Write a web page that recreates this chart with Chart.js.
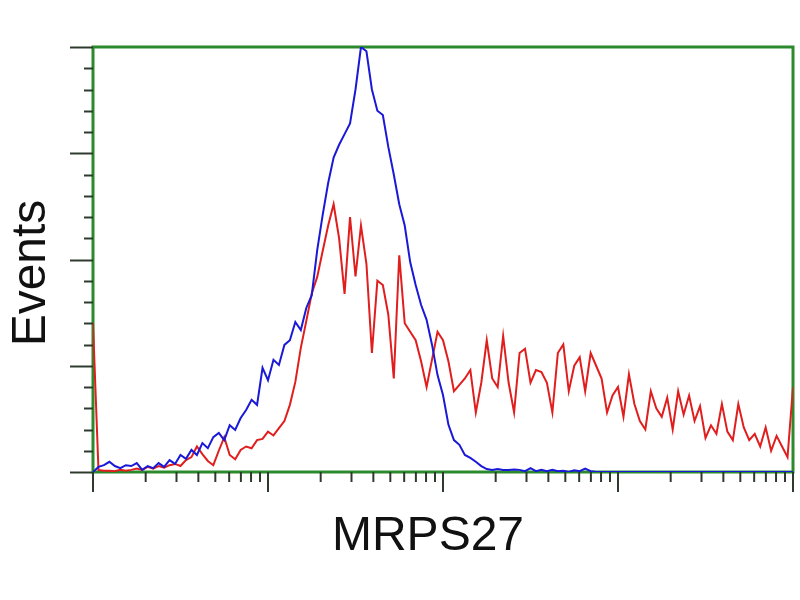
<!DOCTYPE html>
<html>
<head>
<meta charset="utf-8">
<script src="https://cdn.jsdelivr.net/npm/chart.js@4.4.1/dist/chart.umd.min.js"></script>
<style>
  body { margin: 0; background: #fff; }
  #wrap { width: 800px; height: 600px; }
</style>
</head>
<body>
<div id="wrap"><canvas id="histo" width="800" height="600"></canvas></div>
<script>
// histogram bins: 128 channels over 4 log decades (32 channels per decade)
const decades = [0, 1, 2, 3, 4];
const channelsPerDecade = 32;

// blue (control) histogram, events per channel, scaled to 100 at the peak
const blueCounts = [
    0, 1.2, 1.6, 2.4, 1.4, 0.9, 1.6, 1.4, 2.1, 0.5,
    1.4, 0.9, 2.1, 1.2, 2.8, 1.9, 4.0, 3.1, 5.2, 4.0,
    6.8, 5.6, 8.2, 9.2, 7.5, 11, 9.9, 12.7, 14.6, 17,
    15.8, 24.5, 21.6, 26.4, 25.2, 29.9, 31, 35.3, 33.4, 38.6,
    41.6, 52.2, 60.5, 68, 74, 77, 79.5, 82, 90, 100,
    99, 90, 85, 84, 76.5, 70, 63, 58, 49.4, 44,
    39.3, 35.8, 29.9, 22.8, 18.1, 11.1, 7.5, 6.4, 4, 3.3,
    2.4, 1.4, 0.7, 0.5, 0.7, 0.5, 0.5, 0.6, 0.5, 0.2,
    0.9, 0.2, 0.5, 0.2, 0.5, 0.2, 0.3, 0, 0.4, 0.2,
    0.8, 0.2, 0, 0, 0, 0, 0, 0, 0, 0,
    0, 0, 0, 0, 0, 0, 0, 0, 0, 0,
    0, 0, 0, 0, 0, 0, 0, 0, 0, 0,
    0, 0, 0, 0, 0, 0, 0, 0, 0
];

// red (MRPS27 transfected) histogram
const redCounts = [
    35, 0.5, 0.3, 0.3, 0.2, 0.5, 0.3, 0.5, 0.8, 0.5,
    1.2, 0.8, 1.4, 1.0, 1.6, 1.9, 1.4, 2.8, 3.5, 6.0,
    4.2, 2.6, 1.6, 5.0, 8.2, 4.0, 3.0, 5.2, 6.0, 5.6,
    7.5, 7.8, 9.5, 8.6, 10.3, 12, 15.8, 21.2, 29.2, 35.5,
    42, 45.9, 52, 58, 63, 55, 41.9, 60, 46, 58,
    49, 28, 45, 44, 37, 22, 51, 35, 33, 31,
    26, 20, 26.5, 33, 31, 26, 19, 20.5, 22, 24,
    14, 21, 31, 22, 20, 32, 21, 14, 28, 29,
    21, 24, 23.5, 21, 14, 28, 30, 19, 25, 27,
    19, 28, 25, 22, 14, 18, 20, 13, 23, 16,
    12, 10, 19, 15, 13, 17.5, 10, 19, 13.5, 18,
    12, 15.5, 8, 11, 9, 16, 9.5, 7.5, 16, 10.5,
    7.5, 9, 6, 10.5, 5, 8.5, 6, 3.5, 20
];

const yMajorTicks = [0, 25, 50, 75, 100];
const yMinorStep = 5;
const xTitle = 'MRPS27';
const yTitle = 'Events';

const toPoints = arr => arr.map((v, i) => ({ x: i, y: v }));

// frame, tick marks and axis titles in the old cytometer style
const cytoFrame = {
    id: 'cytoFrame',
    beforeDatasetsDraw(chart) {
        const { ctx, chartArea: a, scales: { x, y } } = chart;
        ctx.save();
        ctx.strokeStyle = '#2c8a2c';
        ctx.lineWidth = 3;
        ctx.strokeRect(a.left, a.top, a.right - a.left, a.bottom - a.top);

        ctx.strokeStyle = '#2f3a2f';
        ctx.lineWidth = 2;
        // y ticks
        for (let v = 0; v <= 100; v += yMinorStep) {
            const py = Math.round(y.getPixelForValue(v)) + 0.5;
            const len = yMajorTicks.includes(v) ? 23 : 9;
            ctx.beginPath();
            ctx.moveTo(a.left - len, py);
            ctx.lineTo(a.left, py);
            ctx.stroke();
        }
        // x log ticks
        decades.forEach(d => {
            const px = x.getPixelForValue(d * channelsPerDecade);
            ctx.beginPath();
            ctx.moveTo(px, a.bottom);
            ctx.lineTo(px, a.bottom + 20);
            ctx.stroke();
            if (d === decades[decades.length - 1]) return;
            for (let k = 2; k <= 9; k++) {
                const mx = x.getPixelForValue((d + Math.log10(k)) * channelsPerDecade);
                ctx.beginPath();
                ctx.moveTo(mx, a.bottom);
                ctx.lineTo(mx, a.bottom + 10);
                ctx.stroke();
            }
        });
        ctx.restore();
    },
    afterDraw(chart) {
        const { ctx } = chart;
        ctx.save();
        ctx.fillStyle = '#111';
        ctx.font = '48px "Liberation Sans", Arial, sans-serif';
        ctx.textAlign = 'center';
        ctx.textBaseline = 'alphabetic';
        ctx.fillText(xTitle, 428, 550);
        ctx.translate(45, 273);
        ctx.rotate(-Math.PI / 2);
        ctx.fillText(yTitle, 0, 0);
        ctx.restore();
    }
};

new Chart(document.getElementById('histo'), {
    type: 'line',
    data: {
        datasets: [
            {
                label: 'Control',
                data: toPoints(blueCounts),
                borderColor: 'rgb(25,25,215)',
                borderWidth: 2,
                pointRadius: 0,
                tension: 0,
                fill: false
            },
            {
                label: 'MRPS27',
                data: toPoints(redCounts),
                borderColor: 'rgb(225,30,30)',
                borderWidth: 2,
                pointRadius: 0,
                tension: 0,
                fill: false
            }
        ]
    },
    options: {
        responsive: false,
        animation: false,
        layout: { padding: { left: 93, right: 7, top: 47, bottom: 128 } },
        plugins: {
            legend: { display: false },
            tooltip: { enabled: false }
        },
        scales: {
            x: { type: 'linear', min: 0, max: 128, display: false },
            y: { min: 0, max: 100, display: false }
        }
    },
    plugins: [cytoFrame]
});
</script>
</body>
</html>
